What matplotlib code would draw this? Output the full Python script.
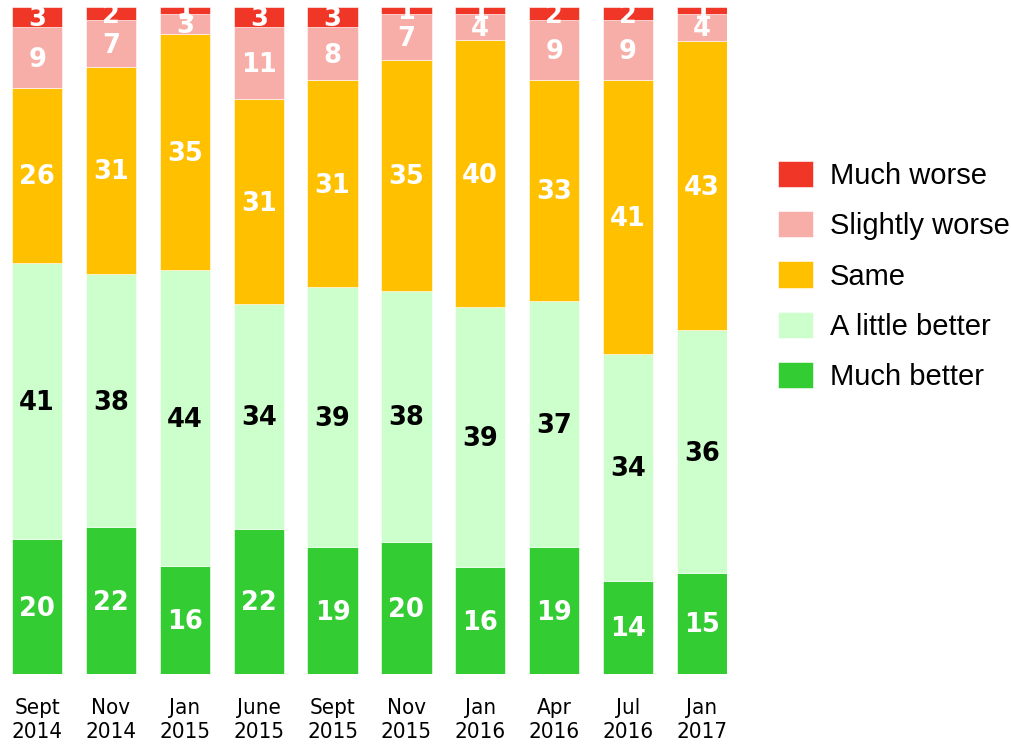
import numpy as np
import matplotlib.pyplot as plt
from matplotlib.patches import FancyBboxPatch
from matplotlib.legend_handler import HandlerPatch

periods = ["Sept\n2014", "Nov\n2014", "Jan\n2015", "June\n2015", "Sept\n2015",
           "Nov\n2015", "Jan\n2016", "Apr\n2016", "Jul\n2016", "Jan\n2017"]

much_better = [20, 22, 16, 22, 19, 20, 16, 19, 14, 15]
little_better = [41, 38, 44, 34, 39, 38, 39, 37, 34, 36]
same = [26, 31, 35, 31, 31, 35, 40, 33, 41, 43]
slightly_worse = [9, 7, 3, 11, 8, 7, 4, 9, 9, 4]
much_worse = [3, 2, 1, 3, 3, 1, 1, 2, 2, 1]

series = [
    ("Much better", much_better, "#33cc33", "white"),
    ("A little better", little_better, "#ccffcc", "black"),
    ("Same", same, "#ffc000", "white"),
    ("Slightly worse", slightly_worse, "#f8aea8", "white"),
    ("Much worse", much_worse, "#f03627", "white"),
]

totals = np.sum([s[1] for s in series], axis=0)
x = np.arange(len(periods))
width = 0.68

fig = plt.figure(figsize=(10.11, 7.48), dpi=100)
ax = fig.add_axes([0.0119, 0.0989, 0.7071, 0.8917])

bottom = np.zeros(len(periods))
bars = []
for name, vals, color, tcolor in series:
    share = np.array(vals) / totals * 100
    b = ax.bar(x, share, width, bottom=bottom, color=color, label=name,
               edgecolor="white", linewidth=0.4)
    bars.append(b)
    for xi, yb, h, v in zip(x, bottom, share, vals):
        ax.text(xi, yb + h / 2 - 0.3, str(v), ha="center", va="center",
                color=tcolor, fontsize=18.5, fontweight="bold", clip_on=True)
    bottom += share

ax.set_xlim(-width / 2, len(periods) - 1 + width / 2)
ax.set_ylim(0, 100)
ax.set_xticks(x)
ax.set_xticklabels(periods, fontsize=16, fontstretch="condensed",
                   linespacing=1.25)
ax.tick_params(axis="x", length=0, pad=17)
ax.set_yticks([])
for sp in ax.spines.values():
    sp.set_visible(False)


def rounded_box(legend, orig, xdescent, ydescent, width, height, fontsize):
    return FancyBboxPatch((-xdescent, -ydescent), width, height,
                          boxstyle="round,pad=0,rounding_size=3")


handles = bars[::-1]
labels = [s[0] for s in series][::-1]
fig.legend(handles, labels, loc="center left", bbox_to_anchor=(0.7547, 0.631),
           frameon=False, borderpad=0, labelspacing=0.73, handlelength=1.2,
           handleheight=1.0, handletextpad=0.58,
           prop={"family": "Liberation Sans", "size": 21},
           handler_map={type(bars[0][0]): HandlerPatch(patch_func=rounded_box)})

plt.savefig("out.png", dpi=100)
